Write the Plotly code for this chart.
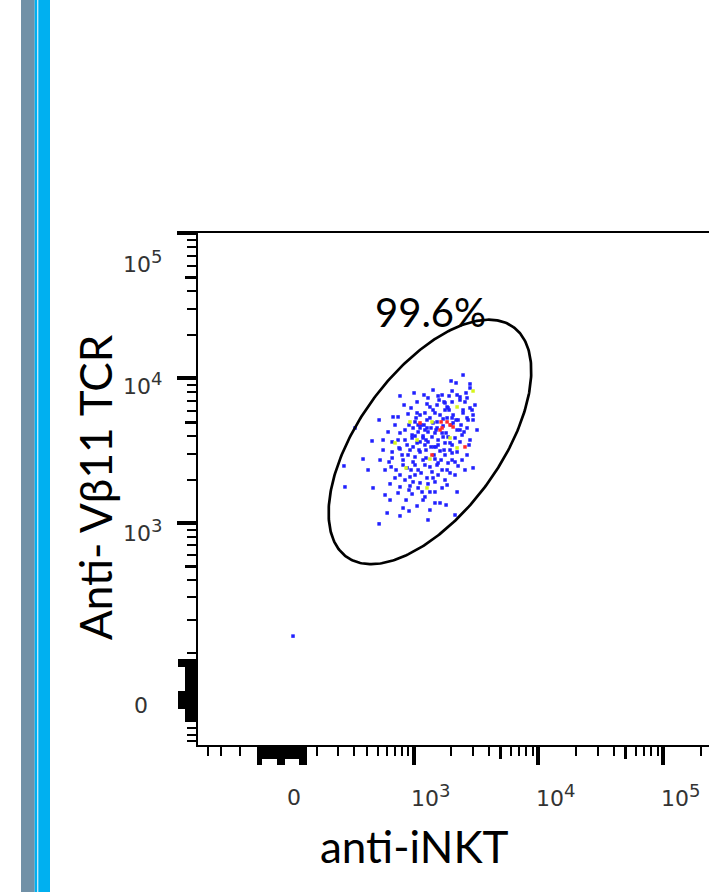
import numpy as np
import plotly.graph_objects as go

# ---------------- data (raw fluorescence intensities) ----------------
inkt_blue = [2494, 1998, 2836, 2836, 1002, 767, 1570, 2233, 2357, 1060, 1754, 2036, 2685, 1349, 1540, 1856,
             3109, 2494, 2945, 894, 1229, 1482, 2074, 510, 671, 739, 1277, 1429, 1856, 2274, 2685, 3000,
             983, 1121, 1277, 1540, 2233, 2685, 307, 767, 965, 1186, 1482, 1723, 2357, 442, 659, 878,
             1060, 1301, 1570, 1960, 552, 767, 894, 1121, 1628, 2233, 2685, 366, 659, 813, 983, 1186,
             1482, 1890, 236, 646, 878, 1081, 1349, 1691, 2585, 3000, 767, 928, 1277, 1570, 1960, 451,
             633, 767, 928, 1121, 1301, 242, 1164, 1349, 1482, 2233, 633, 739, 1060, 1482, 1628, 813,
             911, 767, 598, 510, 2150, 2036, 2357, 1786, 2585, 1890, 2836, 2494, 3000, 1020, 1081, 1349,
             1540, 1628, 1723, 2074, 2736, 1229, 1301, 2357, 965, 1020, 1186, 1691, 1890, 2448, 1121, 1229,
             1570, 1786, 2036, 983, 844, 1402, 2150, 2836, 928, 1253, 1786, 2036, 1020, 813, 1229, 1540,
             2274, 711, 1402, 1020, 1786, 844, 1482, 1081, 1691, 697, 965, 1229, 861, 1349, 574, 520,
             609, 552, 697, 1960, 2448, 3229, 2150, 1121, 1429, 1691, 1301, 829, 659, 739, 1511, 1856,
             983, 407, 574, 0,
             1143, 1207, 1786, 1925, 1376, 1455, 1040, 2036, 1277, 1599, 2403, 844, 911, 1511, 1821, 1081,
             1253, 1660, 2150, 946, 1143, 1429, 1856, 911, 1186, 1998, 2191, 2539, 2786, 1100, 1455, 1754,
             798, 946, 1207, 1429, 1925, 2191, 2635, 1376, 1060, 1723, 1253, 2036, 1570, 1020, 753, 621,
             1301, 1821]
vb11_blue = [10545, 9595, 9148, 8584, 7932, 7563, 7563, 7681, 7092, 6876, 6876, 6876, 7327, 6350, 6550, 6350,
             6550, 6050, 6050, 5682, 5774, 5774, 5589, 5164, 5419, 5419, 5164, 4927, 5334, 5164, 5334, 5164,
             4549, 4549, 4549, 4549, 4405, 4549, 4549, 4201, 3880, 4004, 4201, 3942, 3643, 3700, 3643, 3471,
             3586, 3643, 3471, 3586, 3204, 3259, 2961, 3106, 3155, 3106, 2961, 2777, 2823, 2733, 2649, 2733,
             2777, 2607, 2487, 2449, 2411, 2333, 2449, 2333, 2333, 2411, 2154, 2088, 2055, 2154, 2225, 1753,
             1869, 1781, 1809, 1899, 1869, 1781, 1644, 1644, 1644, 1644, 1446, 1618, 1315, 1380, 1380, 1273,
             1214, 1122, 1176, 988, 1139, 8184, 7445, 6768, 6876, 6250, 6250, 5774, 5589, 5006, 4768, 5334,
             5006, 5589, 5249, 4927, 5164, 4405, 4269, 4405, 4066, 4004, 3880, 4201, 3942, 4066, 3643, 3471,
             3757, 3586, 3471, 3365, 4405, 3942, 3880, 3757, 3204, 3204, 2961, 2733, 2869, 2525, 2525, 2525,
             2487, 2333, 2261, 2154, 1989, 1989, 1929, 1753, 1753, 2055, 1592, 1519, 1446, 1233, 2333, 2733,
             4269, 3757, 4768, 3204, 2733, 4405, 2154, 5589, 6050, 7681, 7327, 6550, 3106, 3757, 3365, 2333,
             1929, 2333, 1567, 145,
             4768, 4768, 6050, 6050, 3365, 3365, 5334, 5334, 6658, 7092, 4768, 3757, 4768, 4405, 4201, 4269,
             2823, 2733, 2649, 2333, 2225, 2055, 1837, 1696, 1446, 4768, 5164, 4269, 3471, 3204, 2961, 3204,
             2961, 6250, 7681, 8310, 7563, 9297, 7932, 4549, 5774, 4695, 3757, 3057, 2607, 2525, 3312, 2649,
             1052, 1336]
inkt_yellow = [3000, 2233, 928, 861, 1349, 1277, 1402, 1060, 1960, 2233, 697]
vb11_yellow = [8184, 6350, 5006, 2411, 2777, 1753, 5006, 3757, 3880, 3312, 3586]
inkt_red = [1121, 1660, 1691, 1960, 2585, 1402, 1628, 2074, 1856]
vb11_red = [4927, 5006, 4549, 4768, 3365, 2961, 4405, 4621, 5006]

gate_label = "99.6%"
x_title = "anti-iNKT"
y_title = "Anti- V\u03b211 TCR"

decade_values = [1e3, 1e4, 1e5]
decade_labels = ["10", "10", "10"]
decade_exponents = ["3", "4", "5"]
zero_value = 0
zero_label = "0"

# unlabelled tick values
x_decade_ticks = [1e3, 1e4, 1e5]
x_long_ticks = [-150, -140, -60, -50, -40, 30, 40, 50]
x_medium_ticks = [5e3, 5e4] + [v for v in range(-130, 30, 10) if v not in (-60, -50, -40)]
x_short_ticks = ([-500, -380, -250] + list(range(100, 1000, 100)) +
                 [m * 1e3 for m in (2, 3, 4, 6, 7, 8, 9)] + [m * 1e4 for m in (2, 3, 4, 6, 7, 8, 9)] + [2e5])
y_decade_ticks = [1e3, 1e4, 1e5]
y_long_ticks = [70, 75, 80, -15, -10, -5, 0, 5, 10, 15]
y_medium_ticks = [5e2, 5e3, 5e4] + [v for v in range(-40, 70, 5) if abs(v) > 15]
y_short_ticks = ([-55, -70, -85] + [v for v in range(100, 1000, 100) if v != 500] +
                 [m * 1e3 for m in (2, 3, 4, 6, 7, 8, 9)] + [m * 1e4 for m in (2, 3, 4, 6, 7, 8, 9)])

# ---------------- scale (arcsinh display transform) ----------------
X_COF = 218.0
Y_COF = 121.0


def tx(v):
    return np.arcsinh(np.asarray(v, dtype=float) / X_COF)


def ty(v):
    return np.arcsinh(np.asarray(v, dtype=float) / Y_COF)


W, H = 709, 892
M_L, M_R, M_T, M_B = 198, 0, 233, 147
PLOT_W = W - M_L - M_R
PLOT_H = H - M_T - M_B
X_RANGE = [-1.750, 7.6625]
Y_RANGE = [-0.7146, 7.4162]
px_per_ux = PLOT_W / (X_RANGE[1] - X_RANGE[0])
px_per_uy = PLOT_H / (Y_RANGE[1] - Y_RANGE[0])

# gate (ellipse drawn in display space)
gate_center = (1349, 3643)
gate_semi_major_px, gate_semi_minor_px, gate_angle_deg = 142, 71, 54
t = np.linspace(0, 2 * np.pi, 361)
th = np.radians(gate_angle_deg)
dxp = gate_semi_major_px * np.cos(t) * np.cos(th) - gate_semi_minor_px * np.sin(t) * np.sin(th)
dyp = gate_semi_major_px * np.cos(t) * np.sin(th) + gate_semi_minor_px * np.sin(t) * np.cos(th)
gate_x = tx(gate_center[0]) + dxp / px_per_ux
gate_y = ty(gate_center[1]) + dyp / px_per_uy

fig = go.Figure()
marker_common = dict(symbol="square", size=3.5, line=dict(width=0))
fig.add_trace(go.Scatter(x=tx(inkt_blue), y=ty(vb11_blue), mode="markers",
                         marker=dict(color="#2020ff", **marker_common), hoverinfo="skip"))
fig.add_trace(go.Scatter(x=tx(inkt_yellow), y=ty(vb11_yellow), mode="markers",
                         marker=dict(color="#d6f51a", **marker_common), hoverinfo="skip"))
fig.add_trace(go.Scatter(x=tx(inkt_red), y=ty(vb11_red), mode="markers",
                         marker=dict(color="#ff2a2a", **marker_common), hoverinfo="skip"))
fig.add_trace(go.Scatter(x=gate_x, y=gate_y, mode="lines",
                         line=dict(color="black", width=2.7), hoverinfo="skip"))
# dummy traces to activate the overlay axes that carry extra tick sets
fig.add_trace(go.Scatter(x=[None], y=[None], xaxis="x2", yaxis="y", showlegend=False))
fig.add_trace(go.Scatter(x=[None], y=[None], xaxis="x", yaxis="y2", showlegend=False))
fig.add_trace(go.Scatter(x=[None], y=[None], xaxis="x3", yaxis="y", showlegend=False))
fig.add_trace(go.Scatter(x=[None], y=[None], xaxis="x", yaxis="y3", showlegend=False))

axis_common = dict(showgrid=False, zeroline=False, showticklabels=False, ticks="outside", tickcolor="black")
fig.update_layout(
    width=W, height=H, autosize=False,
    margin=dict(l=M_L, r=M_R, t=M_T, b=M_B, pad=0),
    paper_bgcolor="white", plot_bgcolor="white",
    showlegend=False, hovermode=False,
    xaxis=dict(range=X_RANGE, showline=True, linecolor="black", linewidth=1.5, mirror=True,
               tickmode="array", tickvals=list(tx(x_long_ticks)), ticklen=18, tickwidth=2.5,
               minor=dict(tickmode="array", tickvals=list(tx(x_short_ticks)), ticks="outside",
                          ticklen=9, tickwidth=1.5, tickcolor="black", showgrid=False),
               **axis_common),
    xaxis2=dict(range=X_RANGE, overlaying="x", anchor="y", side="bottom", showline=False,
                tickmode="array", tickvals=list(tx(x_medium_ticks)), ticklen=13, tickwidth=2.5,
                **axis_common),
    xaxis3=dict(range=X_RANGE, overlaying="x", anchor="y", side="bottom", showline=False,
                tickmode="array", tickvals=list(tx(x_decade_ticks)), ticklen=19, tickwidth=4,
                **axis_common),
    yaxis=dict(range=Y_RANGE, showline=True, linecolor="black", linewidth=1.5, mirror=False,
               tickmode="array", tickvals=list(ty(y_long_ticks)), ticklen=18, tickwidth=2.5,
               minor=dict(tickmode="array", tickvals=list(ty(y_short_ticks)), ticks="outside",
                          ticklen=9, tickwidth=1.5, tickcolor="black", showgrid=False),
               **axis_common),
    yaxis2=dict(range=Y_RANGE, overlaying="y", anchor="x", side="left", showline=False,
                tickmode="array", tickvals=list(ty(y_medium_ticks)), ticklen=12, tickwidth=2.5,
                **axis_common),
    yaxis3=dict(range=Y_RANGE, overlaying="y", anchor="x", side="left", showline=False,
                tickmode="array", tickvals=list(ty(y_decade_ticks)), ticklen=20, tickwidth=4,
                **axis_common),
)

tick_font = dict(family="DejaVu Sans", size=22, color="#333333")


def dec_text(base, exp):
    return f"{base}<sup><span style='font-size:18px'>{exp}</span></sup>"


ann = []
for v, b, e in zip(decade_values, decade_labels, decade_exponents):
    ann.append(dict(x=float(tx(v)), xref="x", y=0, yref="paper", text=dec_text(b, e),
                    showarrow=False, xanchor="center", yanchor="middle", xshift=17, yshift=-50,
                    font=tick_font))
ann.append(dict(x=float(tx(zero_value)), xref="x", y=0, yref="paper", text=zero_label,
                showarrow=False, xanchor="center", yanchor="middle", xshift=1, yshift=-52,
                font=tick_font))
y_label_shift = {1e3: -7, 1e4: -5, 1e5: -28}
for v, b, e in zip(decade_values, decade_labels, decade_exponents):
    ann.append(dict(x=0, xref="paper", y=float(ty(v)), yref="y", text=dec_text(b, e),
                    showarrow=False, xanchor="center", yanchor="middle", xshift=-56,
                    yshift=y_label_shift[v], font=tick_font))
ann.append(dict(x=0, xref="paper", y=float(ty(zero_value)), yref="y", text=zero_label,
                showarrow=False, xanchor="center", yanchor="middle", xshift=-57, yshift=-5,
                font=tick_font))

title_font = dict(family="Lato, Noto Sans", size=44, color="black")
ann.append(dict(x=float(tx(gate_center[0])), xref="x", y=1, yref="paper", text=x_title,
                showarrow=False, xanchor="center", yanchor="middle", xshift=-15,
                yshift=-(PLOT_H + 101), font=title_font))
ann.append(dict(x=0, xref="paper", y=0.5, yref="paper", text=y_title, textangle=-90,
                showarrow=False, xanchor="center", yanchor="middle", xshift=-(M_L - 95),
                yshift=(PLOT_H / 2 + M_T) - 487, font=title_font))
gate_top = float(np.max(gate_y))
ann.append(dict(x=float(tx(gate_center[0])), xref="x", y=gate_top, yref="y", text=gate_label,
                showarrow=False, xanchor="center", yanchor="middle", xshift=1, yshift=8,
                font=dict(family="Lato, Noto Sans", size=40, color="black")))
fig.update_layout(annotations=ann)


# decorative stripes on the left edge of the slide
def paper_x(px):
    return (px - M_L) / PLOT_W


def paper_y(py):
    return (H - M_B - py) / PLOT_H


stripes = [(21, 34.7, "#7191a7"), (34.7, 37, "#00b0f0"), (37, 38.3, "#bfe9fb"), (38.3, 50, "#00b0f0")]
for x0, x1, c in stripes:
    fig.add_shape(type="rect", xref="paper", yref="paper", x0=paper_x(x0), x1=paper_x(x1),
                  y0=paper_y(H), y1=paper_y(0), fillcolor=c, line=dict(width=0), layer="above")

fig.write_html("out.html")
